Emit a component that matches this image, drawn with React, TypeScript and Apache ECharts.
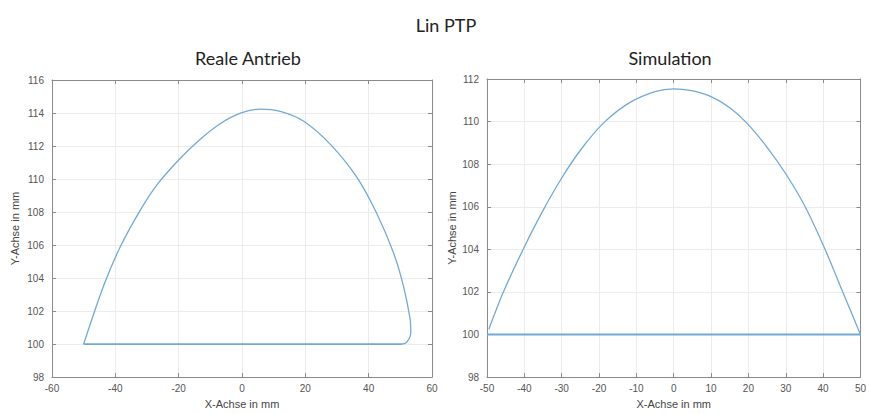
import React, { useEffect, useRef } from "react";
import * as echarts from "echarts";

const leftCurveX = [-50, -43.7, -38.4, -32.1, -26.8, -20, -13.2, -6.9, -0.5, 5.8, 12.1, 19.5, 27.9, 36.3, 42.6, 47.9, 51.0, 53.1, 53.3, 52.0, 50.5];
const leftCurveY = [100, 103.53, 105.91, 108.12, 109.66, 111.15, 112.41, 113.35, 113.99, 114.24, 114.1, 113.5, 112.1, 110.1, 107.9, 105.5, 103.5, 101.5, 100.7, 100.1, 100];
const leftBaseX = [50.5, -50];
const leftBaseY = [100, 100];

const rightCurveX = [-49.5, -45.7, -40.4, -35.2, -30, -24.8, -18.7, -11.7, -4.8, 0, 4.8, 10, 15.2, 19.6, 24.8, 30, 35.2, 40.4, 44.8, 50];
const rightCurveY = [100.25, 101.96, 103.97, 105.76, 107.35, 108.7, 109.95, 110.9, 111.42, 111.54, 111.45, 111.17, 110.63, 109.93, 108.84, 107.55, 106.0, 104.05, 102.2, 100];
const rightBaseX = [50, -50];
const rightBaseY = [100, 100];

const titles = ["Lin PTP", "Reale Antrieb", "Simulation"];
const xName = "X-Achse in mm";
const yName = "Y-Achse in mm";

const zip = (xs: number[], ys: number[]) => xs.map((x, i) => [x, ys[i]]);

const LINE = "#72a9d6";
const AXIS = "#8a8a8a";
const LABEL = "#555";
const GRID = "#ececec";

function mainX(gridIndex: number, min: number, max: number, interval: number) {
  return {
    type: "value", gridIndex, min, max, interval, position: "bottom",
    name: xName, nameLocation: "middle", nameGap: 20,
    nameTextStyle: { color: "#444", fontSize: 11, fontFamily: "Liberation Sans" },
    axisLine: { show: true, onZero: false, lineStyle: { color: AXIS } },
    axisTick: { show: true, inside: true, length: 4, lineStyle: { color: AXIS } },
    axisLabel: { color: LABEL, fontSize: 10, fontFamily: "Liberation Sans", margin: 6 },
    splitLine: { show: true, lineStyle: { color: GRID } },
  };
}
function boxX(gridIndex: number, min: number, max: number, interval: number) {
  return {
    type: "value", gridIndex, min, max, interval, position: "top",
    axisLine: { show: true, onZero: false, lineStyle: { color: AXIS } },
    axisTick: { show: true, inside: true, length: 4, lineStyle: { color: AXIS } },
    axisLabel: { show: false },
    splitLine: { show: false },
  };
}
function mainY(gridIndex: number, min: number, max: number, interval: number, gap: number) {
  return {
    type: "value", gridIndex, min, max, interval, position: "left",
    name: yName, nameLocation: "middle", nameGap: gap,
    nameTextStyle: { color: "#444", fontSize: 11, fontFamily: "Liberation Sans" },
    axisLine: { show: true, onZero: false, lineStyle: { color: AXIS } },
    axisTick: { show: true, inside: true, length: 4, lineStyle: { color: AXIS } },
    axisLabel: { color: LABEL, fontSize: 10, fontFamily: "Liberation Sans", margin: 8 },
    splitLine: { show: true, lineStyle: { color: GRID } },
  };
}
function boxY(gridIndex: number, min: number, max: number, interval: number) {
  return {
    type: "value", gridIndex, min, max, interval, position: "right",
    axisLine: { show: true, onZero: false, lineStyle: { color: AXIS } },
    axisTick: { show: true, inside: true, length: 4, lineStyle: { color: AXIS } },
    axisLabel: { show: false },
    splitLine: { show: false },
  };
}

export default function App() {
  const ref = useRef<HTMLDivElement>(null);
  useEffect(() => {
    if (!ref.current) return;
    const chart = echarts.init(ref.current, undefined, { renderer: "svg" });
    const titleStyle = { fontFamily: "Lato", fontSize: 18, fontWeight: "normal", color: "#222" };
    chart.setOption({
      animation: false,
      backgroundColor: "#ffffff",
      title: [
        { text: titles[0], left: 441, top: 11, textAlign: "center", textStyle: titleStyle },
        { text: titles[1], left: 243, top: 44, textAlign: "center", textStyle: titleStyle },
        { text: titles[2], left: 665, top: 44, textAlign: "center", textStyle: titleStyle },
      ],
      grid: [
        { left: 52, right: 437, top: 80, bottom: 34 },
        { left: 487, right: -1, top: 79, bottom: 34 },
      ],
      xAxis: [
        mainX(0, -60, 60, 20),
        boxX(0, -60, 60, 20),
        mainX(1, -50, 50, 10),
        boxX(1, -50, 50, 10),
      ],
      yAxis: [
        mainY(0, 98, 116, 2, 32),
        boxY(0, 98, 116, 2),
        mainY(1, 98, 112, 2, 30),
        boxY(1, 98, 112, 2),
      ],
      series: [
        {
          type: "line", xAxisIndex: 0, yAxisIndex: 0, data: zip(leftCurveX, leftCurveY),
          showSymbol: false, smooth: 0.3, lineStyle: { color: LINE, width: 1.3 }, silent: true,
        },
        {
          type: "line", xAxisIndex: 0, yAxisIndex: 0, data: zip(leftBaseX, leftBaseY),
          showSymbol: false, lineStyle: { color: LINE, width: 1.6 }, silent: true,
        },
        {
          type: "line", xAxisIndex: 2, yAxisIndex: 2, data: zip(rightCurveX, rightCurveY),
          showSymbol: false, smooth: 0.3, lineStyle: { color: LINE, width: 1.3 }, silent: true,
        },
        {
          type: "line", xAxisIndex: 2, yAxisIndex: 2, data: zip(rightBaseX, rightBaseY),
          showSymbol: false, lineStyle: { color: LINE, width: 2 }, silent: true,
        },
      ],
    });
    return () => chart.dispose();
  }, []);
  return <div ref={ref} style={{ position: "fixed", left: 0, top: 0, width: 869, height: 414 }} />;
}
